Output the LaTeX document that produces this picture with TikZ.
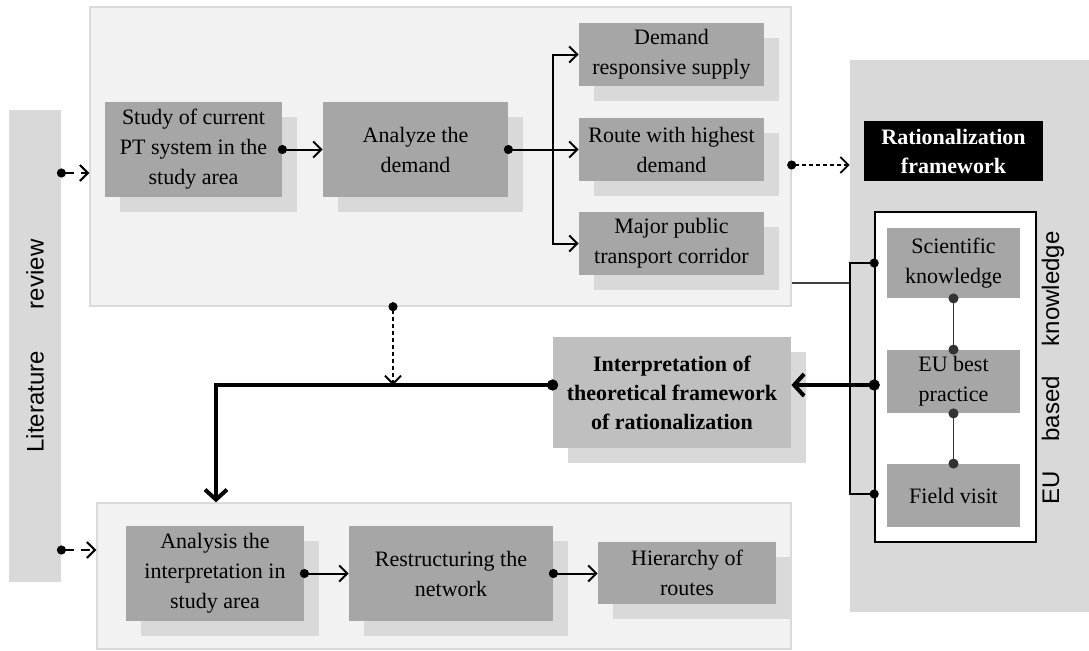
\documentclass[tikz,border=0pt]{standalone}
\usepackage{fontspec}
\setmainfont{Liberation Serif}
\setsansfont{Liberation Sans}
\usepackage{tikz}
\usetikzlibrary{arrows.meta,shadows,positioning}
\definecolor{panelgray}{HTML}{F2F2F2}
\definecolor{panelline}{HTML}{DADADA}
\definecolor{boxgray}{HTML}{A6A6A6}
\definecolor{shadegray}{HTML}{D9D9D9}
\definecolor{bargray}{HTML}{D9D9D9}
\definecolor{interpgray}{HTML}{BFBFBF}

\begin{document}
\begin{tikzpicture}[x=0.5pt,y=-0.5pt]
  \tikzstyle{every node} = [inner sep=0pt, font=\fontsize{11}{15}\selectfont];
  \tikzstyle{panel} = [draw=panelline, fill=panelgray, line width=0.7pt];
  \tikzstyle{procbox} = [fill=boxgray, align=center,
    general shadow={fill=shadegray, shadow xshift=7.5pt, shadow yshift=-7.5pt}];
  \tikzstyle{kbox} = [fill=boxgray, align=center, minimum width=66.5pt];
  \tikzstyle{arr} = [line width=1pt, -{Straight Barb[length=4pt,width=8pt]}];
  \tikzstyle{dotline} = [line width=1pt, {Circle[length=4.5pt]}-, shorten <=-2.25pt];
  \tikzstyle{dotarr} = [line width=1pt, {Circle[length=4.5pt]}-{Straight Barb[length=4pt,width=8pt]},
    shorten <=-2.25pt];
  \tikzstyle{litarr} = [dotarr, dash pattern=on 4.5pt off 3.5pt];
  \tikzstyle{dottedarr} = [dotarr, line width=0.9pt, dash pattern=on 2pt off 1.5pt];
  \tikzstyle{thickarr} = [line width=2pt, {Circle[length=5.5pt]}-{Straight Barb[length=5pt,width=11pt]},
    shorten <=-2.75pt];
  \tikzstyle{link} = [line width=0.6pt, black!80, {Circle[length=5pt]}-{Circle[length=5pt]},
    shorten <=-2.5pt, shorten >=-2.5pt];
  \useasboundingbox (0,0) rectangle (1089,650);

  % background panels
  \node[panel, minimum width=350.5pt, minimum height=149.5pt] (toppanel) at (440.5,156.5) {};
  \node[panel, minimum width=347pt, minimum height=73pt] (botpanel) at (444,576) {};
  \node[fill=bargray, rotate=90, minimum width=236pt, minimum height=26pt,
    font=\sffamily\fontsize{12}{14}\selectfont] (lit) at (35,346) {Literature\hspace{21pt}review};
  \node[fill=bargray, minimum width=119.5pt, minimum height=276pt] (rpanel) at (969.5,336) {};
  \node[rotate=90, font=\sffamily\fontsize{12}{14}\selectfont] (eulabel) at (1053,368)
    {EU\hspace{15pt}based\hspace{15pt}knowledge};

  % top row
  \node[procbox, minimum width=88.5pt, minimum height=47.5pt] (study) at (193.5,149.5)
    {Study of current\\PT system in the\\study area};
  \node[procbox, minimum width=92.5pt, minimum height=47.5pt] (analyze) at (415.5,149.5)
    {Analyze the\\demand};
  \foreach \n/\y/\t in {demand/54.5/{Demand\\responsive supply},
                        route/149.5/{Route with highest\\demand},
                        major/243.5/{Major public\\transport corridor}}{
    \node[procbox, minimum width=92.5pt, minimum height=31.5pt] (\n) at (671.5,\y) {\t};
  }

  % framework side
  \node[fill=black, text=white, align=center, minimum width=89.5pt, minimum height=30pt,
    font=\fontsize{11}{14.5}\selectfont\bfseries] (ratio) at (953.5,151) {Rationalization\\framework};
  \node[draw, fill=white, line width=0.8pt, minimum width=80.5pt, minimum height=165pt] (frame) at (955.5,377) {};
  \node[kbox, minimum height=35pt] (sci) at (953.5,263) {Scientific\\knowledge};
  \node[kbox, minimum height=31.5pt] (eu) at (953.5,381.5) {EU best\\practice};
  \node[kbox, minimum height=31.5pt] (field) at (953.5,495.5) {Field visit};

  \node[procbox, fill=interpgray, minimum width=119pt, minimum height=55.5pt,
    font=\fontsize{11}{14.5}\selectfont\bfseries] (interp) at (672,392.5)
    {Interpretation of\\theoretical framework\\of rationalization};

  % bottom row
  \node[procbox, minimum width=89pt, minimum height=47.5pt] (analysis) at (215,573.5)
    {Analysis the\\interpretation in\\study area};
  \node[procbox, minimum width=102pt, minimum height=47.5pt] (restr) at (451,573.5)
    {Restructuring the\\network};
  \node[procbox, minimum width=89pt, minimum height=31pt] (hier) at (687,573)
    {Hierarchy of\\routes};

  \coordinate (fork) at (553,149.5);
  \coordinate (hub) at (393,385);
  \coordinate (bend) at (216,385);

  % connectors
  \draw[litarr] (lit.south |- 0,173) -- (toppanel.west |- 0,173);
  \draw[litarr] (lit.south |- 0,550) -- (botpanel.west |- 0,550);
  \draw[dotarr] (study.east) -- (analyze.west);
  \draw[dotline] (analyze.east) -- (fork);
  \foreach \b in {demand,route,major}{
    \draw[arr] (fork) |- (\b.west);
  }
  \draw[dottedarr] (toppanel.east |- 0,165) -- (rpanel.west |- 0,165);
  \draw[dottedarr] (toppanel.south -| hub) -- (hub);
  \draw[line width=0.6pt, black!75] (toppanel.east |- 0,283) -- (rpanel.west |- 0,283);
  \draw[line width=1pt, {Circle[length=4.5pt]}-{Circle[length=4.5pt]},
    shorten <=-2.25pt, shorten >=-2.25pt]
    (frame.west |- sci.west) -- (rpanel.west |- sci.west) -- (rpanel.west |- 0,494) -- (frame.west |- 0,494);
  \foreach \a/\b in {sci/eu,eu/field}{
    \draw[link] (\a.south) -- (\b.north);
  }
  \draw[thickarr] (frame.west |- hub) -- (interp.east |- hub);
  \draw[thickarr] (interp.west |- hub) -- (bend) -- (bend |- botpanel.north);
  \foreach \a/\b in {analysis/restr,restr/hier}{
    \draw[dotarr] (\a.east) -- (\a.east -| \b.west);
  }
\end{tikzpicture}
\end{document}
